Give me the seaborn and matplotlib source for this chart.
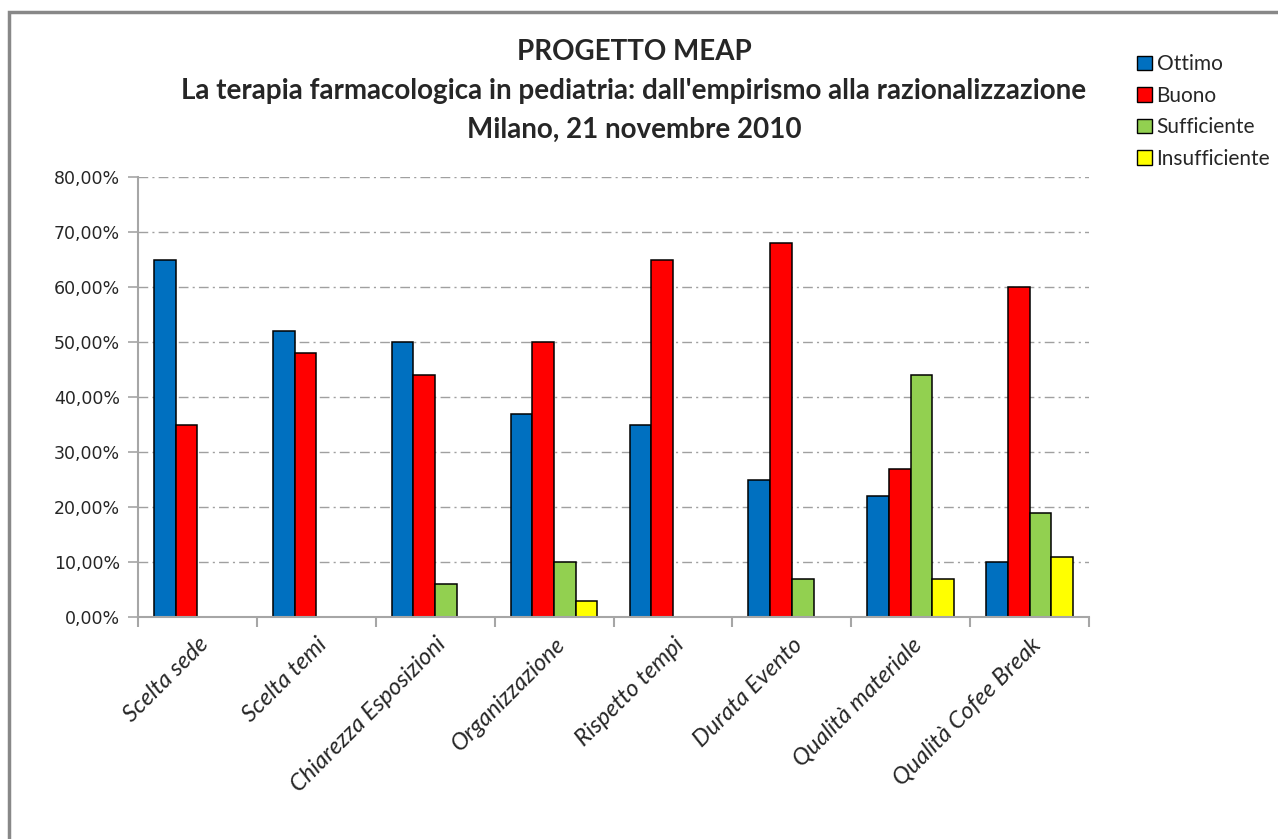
import numpy as np
import pandas as pd
import matplotlib
matplotlib.use("Agg")
import matplotlib.pyplot as plt
import seaborn as sns
from matplotlib.patches import Rectangle, Patch
from matplotlib.ticker import FuncFormatter, FixedLocator

categories = [
    "Scelta sede",
    "Scelta temi",
    "Chiarezza Esposizioni",
    "Organizzazione",
    "Rispetto tempi",
    "Durata Evento",
    "Qualità materiale",
    "Qualità Cofee Break",
]
ratings = ["Ottimo", "Buono", "Sufficiente", "Insufficiente"]
ottimo = [65, 52, 50, 37, 35, 25, 22, 10]
buono = [35, 48, 44, 50, 65, 68, 27, 60]
sufficiente = [np.nan, np.nan, 6, 10, np.nan, 7, 44, 19]
insufficiente = [np.nan, np.nan, np.nan, 3, np.nan, np.nan, 7, 11]
colors = ["#0070C0", "#FF0000", "#92D050", "#FFFF00"]
title = ("PROGETTO MEAP\n"
         "La terapia farmacologica in pediatria: dall'empirismo alla razionalizzazione\n"
         "Milano, 21 novembre 2010")

rows = []
for rating, vals in zip(ratings, [ottimo, buono, sufficiente, insufficiente]):
    for cat, v in zip(categories, vals):
        rows.append({"categoria": cat, "giudizio": rating, "valore": v})
df = pd.DataFrame(rows).dropna()

sns.set_style("white")
plt.rcParams["font.family"] = ["Lato", "DejaVu Sans"]

fig = plt.figure(figsize=(12.78, 8.39), dpi=100)
ax = fig.add_axes([138 / 1278, 1 - 617 / 839, (1089 - 138) / 1278, (617 - 177) / 839])

sns.barplot(
    data=df, x="categoria", y="valore", hue="giudizio",
    order=categories, hue_order=ratings, palette=colors, saturation=1,
    width=0.73, edgecolor="black", linewidth=1.1, ax=ax, legend=False,
)

ax.set_ylim(0, 80)
ax.set_xlim(-0.5, len(categories) - 0.5)
ax.set_yticks(np.arange(0, 81, 10))
ax.yaxis.set_major_formatter(FuncFormatter(lambda v, p: f"{v:.2f}%".replace(".", ",")))
for v in range(10, 81, 10):
    ax.axhline(v, color="#a0a0a0", lw=1.0, ls=(0, (7, 3, 1.5, 3)), zorder=0)

for s in ["top", "right"]:
    ax.spines[s].set_visible(False)
for s in ["left", "bottom"]:
    ax.spines[s].set_color("#a6a6a6")
    ax.spines[s].set_linewidth(1.5)

ax.tick_params(axis="y", which="major", length=7, width=1.2, color="#a6a6a6",
               direction="out", left=True, labelsize=12.5, pad=6)
for lab in ax.get_yticklabels():
    lab.set_fontfamily("DejaVu Sans")

ax.xaxis.set_minor_locator(FixedLocator(np.arange(-0.5, len(categories), 1.0)))
ax.tick_params(axis="x", which="minor", length=7, width=1.5, color="#a6a6a6",
               direction="out", bottom=True)
ax.tick_params(axis="x", which="major", length=0, pad=12)
ax.set_xticks(range(len(categories)))
ax.set_xticklabels(categories, rotation=45, ha="right", rotation_mode="anchor",
                   fontsize=17, fontstyle="italic")
ax.set_xlabel("")
ax.set_ylabel("")

fig.text(634 / 1278, 1 - 39 / 839, title, ha="center", va="top",
         fontsize=20, fontweight="bold", linespacing=1.62)

handles = [Patch(facecolor=c, edgecolor="black", linewidth=1.0) for c in colors]
fig.legend(handles, ratings, loc="upper left", bbox_to_anchor=(1129 / 1278, 1 - 46 / 839),
           frameon=False, fontsize=15, handlelength=0.72, handleheight=0.72,
           handletextpad=0.2, labelspacing=0.55, borderaxespad=0)

fig.patches.append(Rectangle((9 / 1278, -0.1), 1.2, 1.1 - 12 / 839, transform=fig.transFigure,
                             facecolor="none", edgecolor="#888888", linewidth=2.5))

fig.savefig("out.png", dpi=100)
